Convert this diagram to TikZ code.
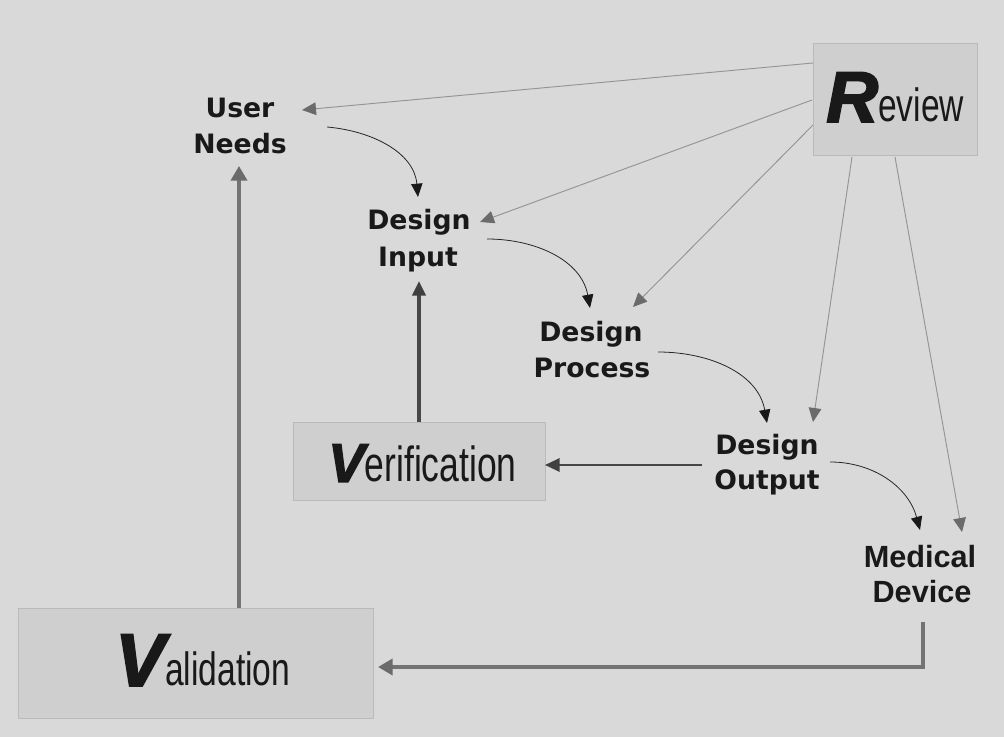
\documentclass[tikz,border=0pt]{standalone}
\usepackage{fontspec}
\setmainfont{DejaVu Sans}
\newfontfamily\arialfont{Liberation Sans}
\newfontfamily\heavyfont[BoldItalicFeatures={FakeBold=2.5}]{Liberation Sans}
\newfontfamily\narrowfont[FakeStretch=0.72]{Liberation Sans}
\usetikzlibrary{arrows.meta}
\begin{document}
\begin{tikzpicture}[x=0.75pt,y=-0.75pt,
  lbl/.style={inner sep=0pt, anchor=base, text=black!90,
    font=\fontsize{20pt}{24pt}\selectfont\bfseries},
  mlbl/.style={inner sep=0pt, anchor=base, text=black!90,
    font=\arialfont\fontsize{23pt}{26pt}\selectfont\bfseries},
  biglbl/.style={inner sep=0pt, anchor=base west, text=black!90},
  panel/.style={fill=black!19, draw=black!27, line width=0.5pt},
  revline/.style={draw=black!42, line width=0.7pt,
    -{Triangle[length=10.5pt,width=9.5pt,color=black!58]}},
  curv/.style={draw=black!85, line width=0.6pt,
    -{Triangle[length=10pt,width=8.5pt,color=black!90]}},
  darkarrow/.style={draw=black!72, -{Triangle[length=11pt,width=10pt,color=black!75]}},
  greyarrow/.style={draw=black!55, line width=3pt,
    -{Triangle[length=11pt,width=12pt,color=black!58]}}
]
\useasboundingbox (0,0) rectangle (1004,737);
\fill[black!15] (0,0) rectangle (1004,737);

% panels
\draw[panel] (813,43) rectangle (977,155);
\draw[panel] (293,422) rectangle (545,500);
\draw[panel] (18,608) rectangle (373,718);

% labels
\node[lbl] (un1) at (240,118) {User};
\node[lbl] (un2) at (240,154) {Needs};
\node[lbl] (di1) at (419,230) {Design};
\node[lbl] (di2) at (418,267) {Input};
\node[lbl] (dp1) at (591,342) {Design};
\node[lbl] (dp2) at (592,378) {Process};
\node[lbl] (do1) at (767,455) {Design};
\node[lbl] (do2) at (767,490) {Output};
\node[mlbl] (md1) at (920,568) {Medical};
\node[mlbl] (md2) at (922,603) {Device};

\node[biglbl] (rev) at (826,122)
  {{\heavyfont\bfseries\itshape\fontsize{54pt}{54pt}\selectfont R}{\narrowfont\fontsize{35pt}{35pt}\selectfont eview}};
\node[biglbl] (ver) at (328,482)
  {{\heavyfont\bfseries\itshape\fontsize{41pt}{41pt}\selectfont V}{\narrowfont\fontsize{37pt}{37pt}\selectfont erification}};
\node[biglbl] (val) at (115,686)
  {{\heavyfont\bfseries\itshape\fontsize{56pt}{56pt}\selectfont V}{\narrowfont\fontsize{35pt}{35pt}\selectfont alidation}};

% connector end points
\coordinate (revA) at (813,63);
\coordinate (revB) at (812,100);
\coordinate (revC) at (813,125);
\coordinate (revD) at (852,157);
\coordinate (revE) at (895,157);
\coordinate (unR) at (302,110);
\coordinate (diR) at (480,222);
\coordinate (dpT) at (633,307);
\coordinate (doT) at (813,422);
\coordinate (mdT) at (962,532);

\coordinate (unS) at (327,127);
\coordinate (diT) at (418,197);
\coordinate (diS) at (487,239);
\coordinate (dpTL) at (590,308);
\coordinate (dpS) at (658,352);
\coordinate (doTL) at (767,423);
\coordinate (doS) at (830,462);
\coordinate (mdTL) at (920,530);

\coordinate (verT) at (419,422);
\coordinate (diB) at (419,281);
\coordinate (doL) at (702,465);
\coordinate (verR) at (545,465);
\coordinate (valT) at (239,608);
\coordinate (unB) at (239,166);
\coordinate (mdB) at (923,622);
\coordinate (valR) at (378,667);

% review connectors
\draw[revline] (revA) -- (unR);
\draw[revline] (revB) -- (diR);
\draw[revline] (revC) -- (dpT);
\draw[revline] (revD) -- (doT);
\draw[revline] (revE) -- (mdT);

% curved flow
\draw[curv] (unS) to[out=-5,in=95] (diT);
\draw[curv] (diS) to[out=0,in=100] (dpTL);
\draw[curv] (dpS) to[out=0,in=100] (doTL);
\draw[curv] (doS) to[out=0,in=105] (mdTL);

% verification/validation
\draw[darkarrow, line width=2.5pt] (verT) -- (diB);
\draw[darkarrow, line width=1.6pt] (doL) -- (verR);
\draw[greyarrow] (valT) -- (unB);
\draw[greyarrow] (mdB) |- (valR);
\end{tikzpicture}
\end{document}
